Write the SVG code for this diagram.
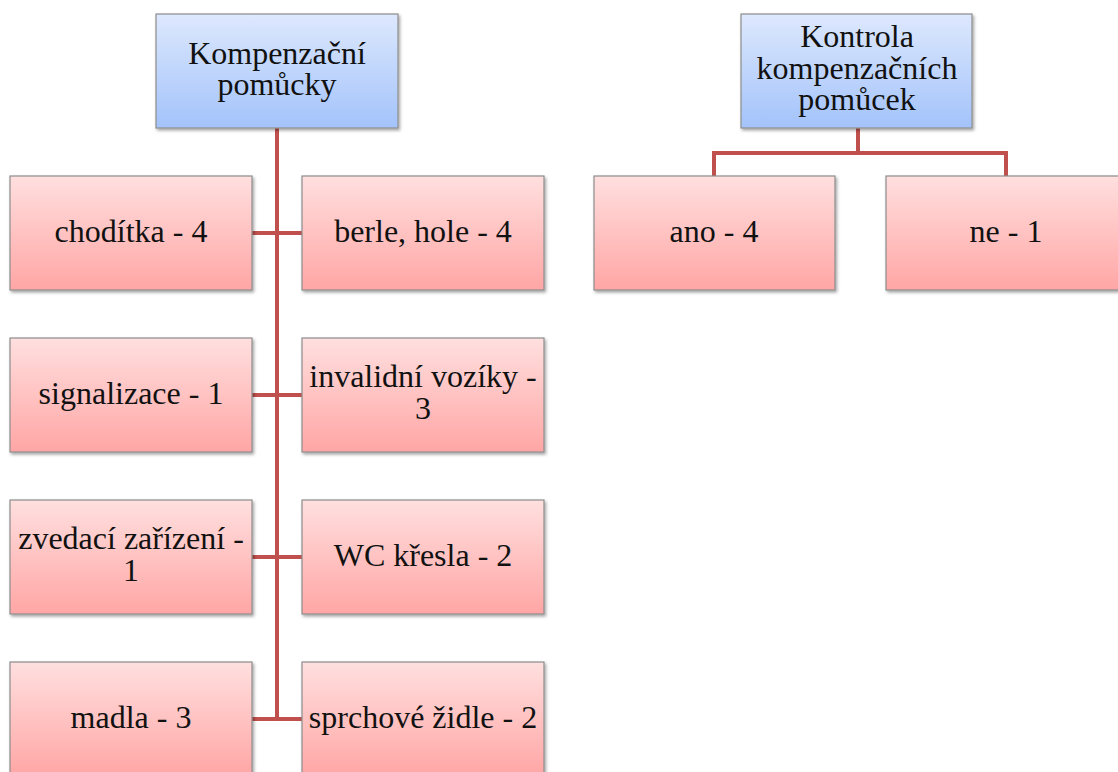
<svg xmlns="http://www.w3.org/2000/svg" width="1118" height="772" viewBox="0 0 1118 772">
  <defs>
    <linearGradient id="gBlue" x1="0" y1="0" x2="0" y2="1">
      <stop offset="0" stop-color="#dde8fd"/>
      <stop offset="1" stop-color="#a3c3fb"/>
    </linearGradient>
    <linearGradient id="gRed" x1="0" y1="0" x2="0" y2="1">
      <stop offset="0" stop-color="#ffdfdf"/>
      <stop offset="1" stop-color="#ffa6a5"/>
    </linearGradient>
    <filter id="shadow" x="-5%" y="-5%" width="115%" height="120%">
      <feDropShadow dx="1.5" dy="2" stdDeviation="1.5" flood-color="#000" flood-opacity="0.35"/>
    </filter>
  </defs>
  <style>
    .parent { fill: url(#gBlue); stroke: #8d8d8d; stroke-width: 1.2; filter: url(#shadow); }
    .child { fill: url(#gRed); stroke: #8d8d8d; stroke-width: 1.2; filter: url(#shadow); }
    .lbl { font-size: 32px; fill: #111; text-anchor: middle; }
    .conn { stroke: #c0504d; stroke-width: 4; fill: none; }
  </style>
  <rect width="1118" height="772" fill="#ffffff"/>

  <!-- tree connectors -->
  <g id="connectors">
    <path class="conn" d="M277 128 V719"/>
    <path class="conn" d="M252 233 H302 M252 395 H302 M252 557 H302 M252 719 H302"/>
    <path class="conn" d="M858 128 V153 M714 176 V153 H1006 V176"/>
  </g>

  <g font-family="'Liberation Serif', 'DejaVu Serif', serif">
  <g id="kompenzacni-pomucky">
    <rect class="parent" x="156" y="14" width="242" height="114"/>
    <text class="lbl" x="277" y="64">Kompenzační</text>
    <text class="lbl" x="277" y="95">pomůcky</text>
  </g>
  <g id="kontrola">
    <rect class="parent" x="741" y="14" width="231" height="114"/>
    <text class="lbl" x="857" y="47">Kontrola</text>
    <text class="lbl" x="857" y="79">kompenzačních</text>
    <text class="lbl" x="857" y="110">pomůcek</text>
  </g>

  <g id="choditka">
    <rect class="child" x="10" y="176" width="242" height="114"/>
    <text class="lbl" x="131" y="242">chodítka - 4</text>
  </g>
  <g id="berle-hole">
    <rect class="child" x="302" y="176" width="242" height="114"/>
    <text class="lbl" x="423" y="242">berle, hole - 4</text>
  </g>
  <g id="signalizace">
    <rect class="child" x="10" y="338" width="242" height="114"/>
    <text class="lbl" x="131" y="404">signalizace  - 1</text>
  </g>
  <g id="invalidni-voziky">
    <rect class="child" x="302" y="338" width="242" height="114"/>
    <text class="lbl" x="423" y="387">invalidní vozíky -</text>
    <text class="lbl" x="423" y="419">3</text>
  </g>
  <g id="zvedaci-zarizeni">
    <rect class="child" x="10" y="500" width="242" height="114"/>
    <text class="lbl" x="131" y="549">zvedací zařízení -</text>
    <text class="lbl" x="131" y="581">1</text>
  </g>
  <g id="wc-kresla">
    <rect class="child" x="302" y="500" width="242" height="114"/>
    <text class="lbl" x="423" y="566">WC křesla - 2</text>
  </g>
  <g id="madla">
    <rect class="child" x="10" y="662" width="242" height="114"/>
    <text class="lbl" x="131" y="728">madla - 3</text>
  </g>
  <g id="sprchove-zidle">
    <rect class="child" x="302" y="662" width="242" height="114"/>
    <text class="lbl" x="423" y="728">sprchové židle - 2</text>
  </g>

  <g id="ano">
    <rect class="child" x="594" y="176" width="241" height="114"/>
    <text class="lbl" x="714" y="242">ano - 4</text>
  </g>
  <g id="ne">
    <rect class="child" x="886" y="176" width="241" height="114"/>
    <text class="lbl" x="1006" y="242">ne - 1</text>
  </g>
  </g>
</svg>
